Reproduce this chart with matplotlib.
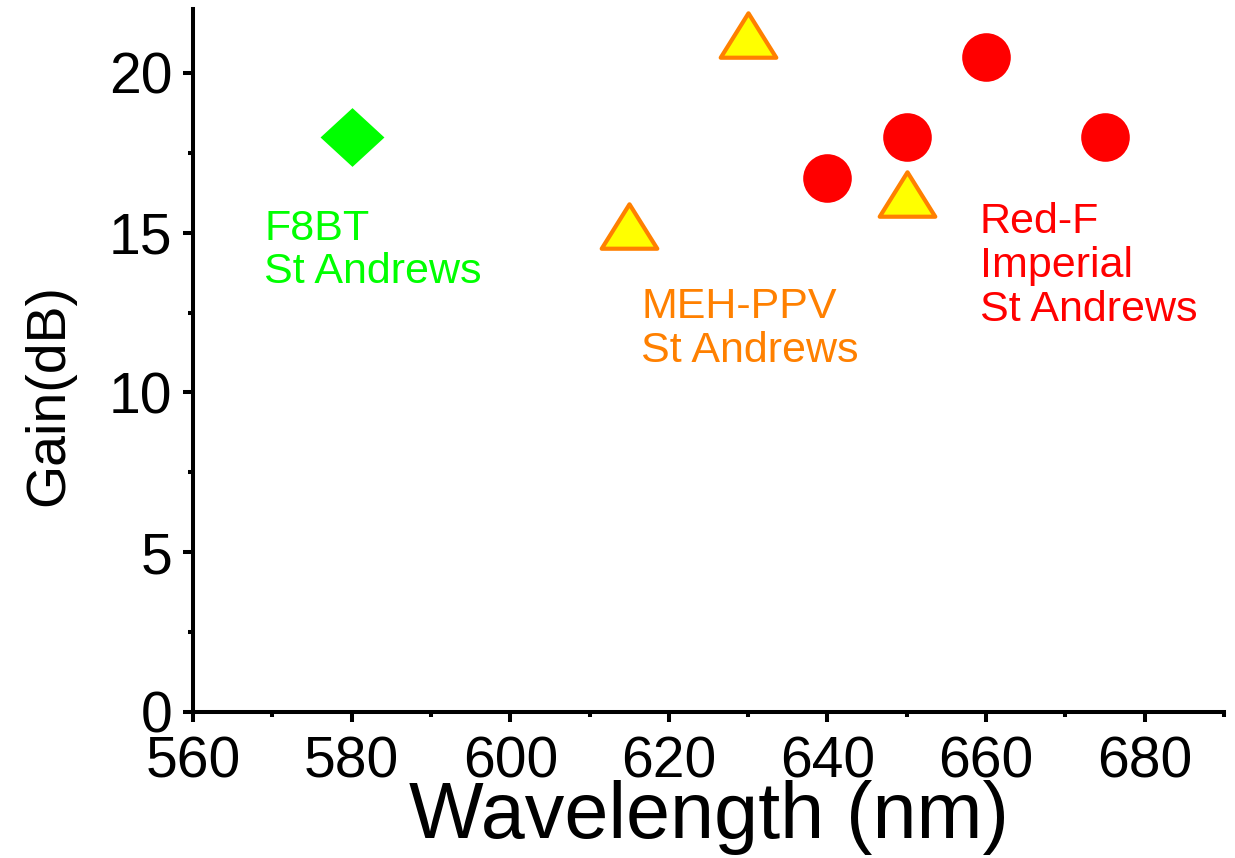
import matplotlib
matplotlib.use("Agg")
import matplotlib.pyplot as plt
from matplotlib.path import Path
from matplotlib.ticker import MultipleLocator

# data
f8bt_wl = [580]
f8bt_gain = [18.0]
meh_wl = [615, 630, 650]
meh_gain = [15.2, 21.2, 16.2]
redf_wl = [640, 650, 660, 675]
redf_gain = [16.7, 18.0, 20.5, 18.0]

plt.rcParams["font.family"] = ["Liberation Sans", "DejaVu Sans"]

GREEN = "#00ff00"
ORANGE = "#ff8000"
YELLOW = "#ffff00"
RED = "#ff0000"

fig = plt.figure(figsize=(12.35, 8.58), dpi=100)
ax = fig.add_axes([0.1563, 0.1702, 0.8348, 0.8193])

# slightly flattened marker shapes, like the original
diamond = Path([(-1, 0), (0, 0.92), (1, 0), (0, -0.92), (-1, 0)], closed=True)
triangle = Path([(-1, -0.8), (1, -0.8), (0, 0.8), (-1, -0.8)], closed=True)

ax.plot(f8bt_wl, f8bt_gain, linestyle="none", marker=diamond, markersize=46,
        color=GREEN, markeredgewidth=0, clip_on=False)
ax.plot(redf_wl, redf_gain, linestyle="none", marker="o", markersize=35,
        color=RED, markeredgewidth=0, clip_on=False)
ax.plot(meh_wl, meh_gain, linestyle="none", marker=triangle, markersize=40,
        markerfacecolor=YELLOW, markeredgecolor=ORANGE, markeredgewidth=3,
        clip_on=False)

ax.text(569, 15.75, "F8BT\nSt Andrews", color=GREEN, fontsize=31, va="top",
        ha="left", linespacing=1.12)
ax.text(616.5, 13.3, "MEH-PPV\nSt Andrews", color=ORANGE, fontsize=31,
        va="top", ha="left", linespacing=1.12)
ax.text(659.2, 15.95, "Red-F\nImperial\nSt Andrews", color=RED, fontsize=31,
        va="top", ha="left", linespacing=1.12)

ax.set_xlim(560, 690)
ax.set_ylim(0, 22)
ax.xaxis.set_major_locator(MultipleLocator(20))
ax.xaxis.set_minor_locator(MultipleLocator(10))
ax.yaxis.set_major_locator(MultipleLocator(5))
ax.yaxis.set_minor_locator(MultipleLocator(2.5))

for side in ("top", "right"):
    ax.spines[side].set_visible(False)
for side in ("left", "bottom"):
    ax.spines[side].set_linewidth(2.9)

ax.tick_params(which="major", direction="out", length=7, width=2.9,
               labelsize=41, pad=10)
ax.tick_params(which="minor", direction="out", length=3.6, width=2.9)
ax.tick_params(axis="y", pad=8)

ax.set_xlabel("Wavelength (nm)", fontsize=57)
ax.xaxis.set_label_coords(0.5, -0.097)
ax.set_ylabel("Gain(dB)", fontsize=40)
ax.yaxis.set_label_coords(-0.1145, 0.451)

fig.savefig("out.png", dpi=100)
